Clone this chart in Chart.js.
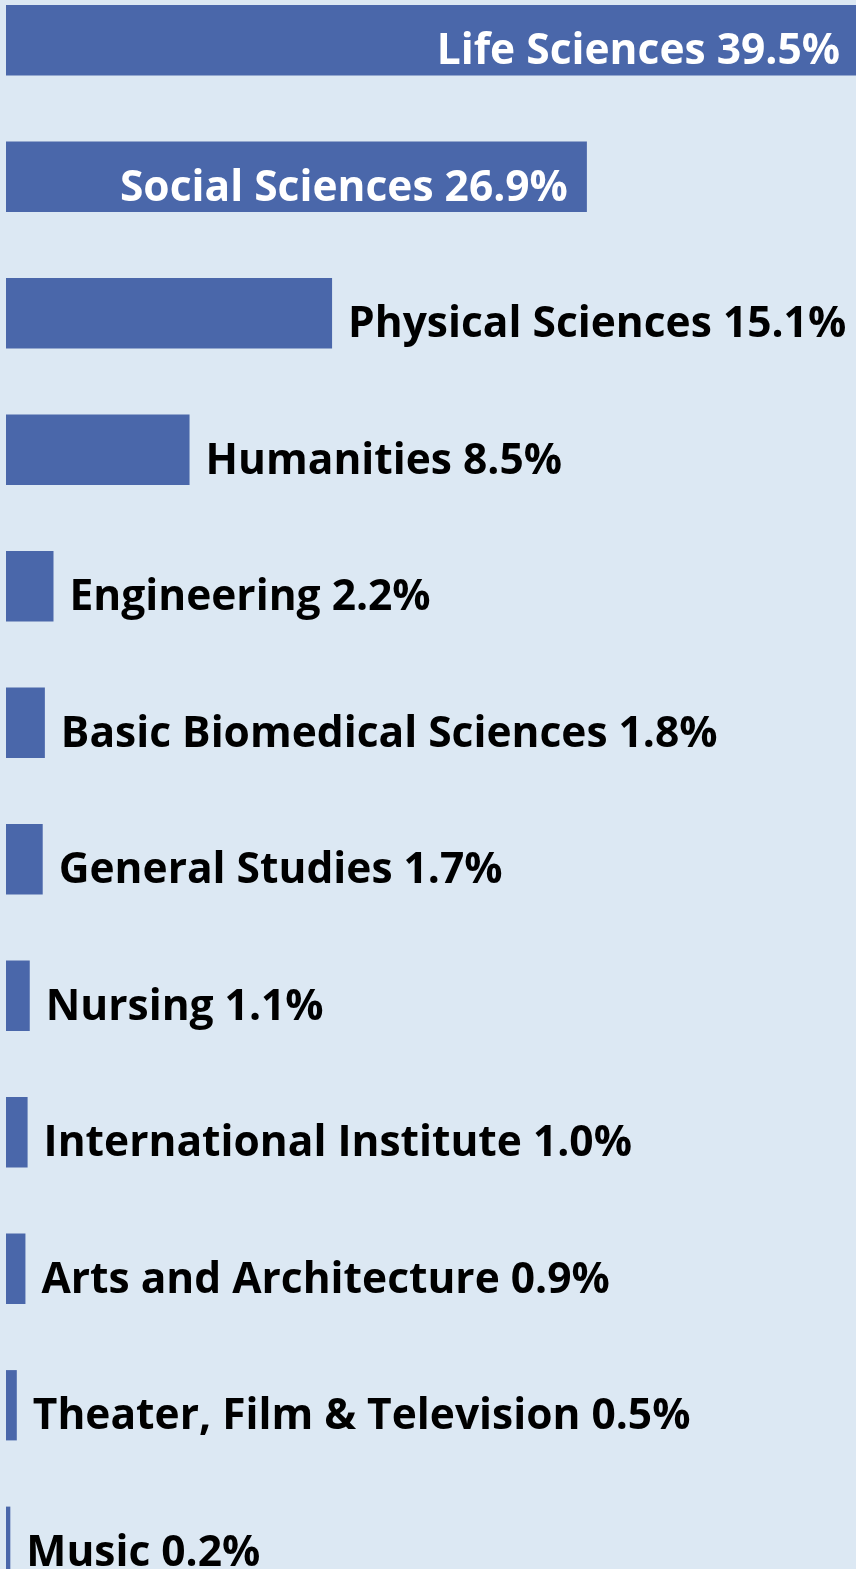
<!DOCTYPE html>
<html>
<head>
<meta charset="utf-8">
<script src="https://cdn.jsdelivr.net/npm/chart.js@4"></script>
<style>
  html, body { margin: 0; padding: 0; background: #dce8f3; overflow: hidden; }
  #wrap { position: absolute; left: 0; top: -28px; width: 900px; height: 1638px; }
</style>
</head>
<body>
<div id="wrap"><canvas id="chart"></canvas></div>
<script>
const categories = ["Life Sciences", "Social Sciences", "Physical Sciences", "Humanities", "Engineering",
    "Basic Biomedical Sciences", "General Studies", "Nursing", "International Institute",
    "Arts and Architecture", "Theater, Film & Television", "Music"];
const shares = [39.5, 26.9, 15.1, 8.5, 2.2, 1.8, 1.7, 1.1, 1.0, 0.9, 0.5, 0.2];

// labels: white inside the long bars, black after the short ones
const barLabels = {
    id: "barLabels",
    afterDatasetsDraw(chart) {
        const ctx = chart.ctx;
        const meta = chart.getDatasetMeta(0);
        ctx.save();
        ctx.font = "bold 42.5px 'Open Sans'";
        ctx.textBaseline = "alphabetic";
        meta.data.forEach(function (bar, i) {
            const text = categories[i] + " " + shares[i].toFixed(1) + "%";
            const y = bar.y + 24;
            if (shares[i] > 20) {
                ctx.fillStyle = "#ffffff";
                ctx.textAlign = "right";
                ctx.fillText(text, bar.x - 19, y);
            } else {
                ctx.fillStyle = "#000000";
                ctx.textAlign = "left";
                ctx.fillText(text, bar.x + 16, y);
            }
        });
        ctx.restore();
    }
};

const ctx = document.getElementById("chart").getContext("2d");
new Chart(ctx, {
    type: "bar",
    data: {
        labels: categories,
        datasets: [{
            data: shares,
            backgroundColor: "#4a67aa",
            barPercentage: 0.515,
            categoryPercentage: 1.0
        }]
    },
    options: {
        indexAxis: "y",
        responsive: true,
        maintainAspectRatio: false,
        animation: false,
        layout: { padding: { left: 6, right: 0, top: 0, bottom: 0 } },
        plugins: { legend: { display: false }, tooltip: { enabled: false } },
        scales: {
            x: { display: false, min: 0, max: 41.4 },
            y: { display: false }
        }
    },
    plugins: [barLabels]
});
</script>
</body>
</html>
